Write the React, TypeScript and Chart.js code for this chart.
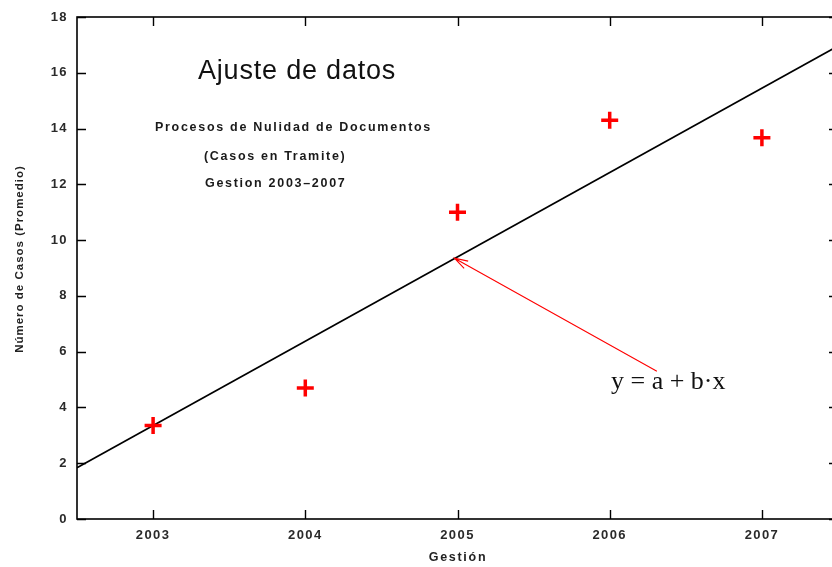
import React, { useEffect, useRef } from "react";
import { Chart, registerables } from "chart.js";

Chart.register(...registerables);

const years = [2003, 2004, 2005, 2006, 2007];
const casos = [3.35, 4.7, 11.0, 14.3, 13.67];
const fitX = [2002.5, 2007.5];
const fitY = [1.84, 16.96];
const xTicks = [2003, 2004, 2005, 2006, 2007];
const yTicks = [0, 2, 4, 6, 8, 10, 12, 14, 16, 18];
const arrowTail = { x: 2006.31, y: 5.3 };
const arrowHead = { x: 2004.98, y: 9.35 };

const titleMain = "Ajuste de datos";
const subLines = ["Procesos de Nulidad de Documentos", "(Casos en Tramite)", "Gestion 2003\u20132007"];
const eqLabel = "y = a + b\u00b7x";
const xTitle = "Gesti\u00f3n";
const yTitle = "N\u00famero de Casos (Promedio)";

const SANS = "'Liberation Sans', Arial, Helvetica, sans-serif";
const SERIF = "'Liberation Serif', 'Times New Roman', serif";

const decorPlugin = {
  id: "decor",
  beforeDraw(chart: any) {
    (chart.ctx as any).letterSpacing = "1.4px";
  },
  afterDraw(chart: any) {
    const ctx = chart.ctx as any;
    const { left, right, top, bottom } = chart.chartArea;
    const xs = chart.scales.x;
    const ys = chart.scales.y;
    ctx.save();
    ctx.letterSpacing = "0px";
    // frame
    ctx.strokeStyle = "#000";
    ctx.lineWidth = 1.6;
    ctx.strokeRect(left, top, right - left, bottom - top);
    // inward ticks
    const tl = 9;
    ctx.lineWidth = 1.4;
    ctx.beginPath();
    for (const v of xTicks) {
      const px = Math.round(xs.getPixelForValue(v)) + 0.5;
      ctx.moveTo(px, bottom);
      ctx.lineTo(px, bottom - tl);
      ctx.moveTo(px, top);
      ctx.lineTo(px, top + tl);
    }
    for (const v of yTicks) {
      const py = Math.round(ys.getPixelForValue(v)) + 0.5;
      ctx.moveTo(left, py);
      ctx.lineTo(left + tl, py);
      ctx.moveTo(right, py);
      ctx.lineTo(right - tl, py);
    }
    ctx.stroke();

    // arrow
    const hx = xs.getPixelForValue(arrowHead.x);
    const hy = ys.getPixelForValue(arrowHead.y);
    const tx = xs.getPixelForValue(arrowTail.x);
    const ty = ys.getPixelForValue(arrowTail.y);
    ctx.strokeStyle = "#ff0000";
    ctx.lineWidth = 1.1;
    ctx.beginPath();
    ctx.moveTo(tx, ty);
    ctx.lineTo(hx, hy);
    const ang = Math.atan2(ty - hy, tx - hx);
    const al = 14;
    const aw = 0.3;
    ctx.moveTo(hx + al * Math.cos(ang + aw), hy + al * Math.sin(ang + aw));
    ctx.lineTo(hx, hy);
    ctx.lineTo(hx + al * Math.cos(ang - aw), hy + al * Math.sin(ang - aw));
    ctx.stroke();

    // equation label
    ctx.fillStyle = "#111";
    ctx.textBaseline = "alphabetic";
    ctx.textAlign = "left";
    ctx.font = `26px ${SERIF}`;
    ctx.fillText(eqLabel, 611, 389);

    // main title
    ctx.font = `27px ${SANS}`;
    ctx.letterSpacing = "0.8px";
    ctx.textAlign = "left";
    ctx.fillText(titleMain, 198, 79);

    // sub lines
    ctx.font = `bold 12.5px ${SANS}`;
    ctx.letterSpacing = "1.7px";
    ctx.textBaseline = "middle";
    ctx.fillStyle = "#1a1a1a";
    ctx.fillText(subLines[0], 155, 128);
    ctx.fillText(subLines[1], 204, 157);
    ctx.fillText(subLines[2], 205, 184);

    // axis titles
    ctx.fillStyle = "#222";
    ctx.textAlign = "center";
    ctx.fillText(xTitle, 458, 558);
    ctx.save();
    ctx.translate(20, 259);
    ctx.rotate(-Math.PI / 2);
    ctx.font = `bold 11.5px ${SANS}`;
    ctx.letterSpacing = "1px";
    ctx.fillText(yTitle, 0, 0);
    ctx.restore();

    ctx.restore();
    ctx.letterSpacing = "0px";
  },
};

export default function App() {
  const ref = useRef<HTMLCanvasElement | null>(null);
  useEffect(() => {
    if (!ref.current) return;
    const chart = new Chart(ref.current, {
      type: "scatter",
      data: {
        datasets: [
          {
            label: "fit",
            data: fitX.map((x, i) => ({ x, y: fitY[i] })),
            showLine: true,
            borderColor: "#000",
            borderWidth: 1.6,
            pointRadius: 0,
            order: 2,
          },
          {
            label: "casos",
            data: years.map((x, i) => ({ x, y: casos[i] })),
            pointStyle: "cross",
            pointRadius: 8.5,
            borderColor: "#ff0000",
            backgroundColor: "#ff0000",
            pointBorderWidth: 3.5,
            showLine: false,
            order: 1,
          },
        ],
      },
      options: {
        responsive: false,
        animation: false,
        events: [],
        layout: { padding: { left: 0, top: 17, right: 9, bottom: 0 } },
        plugins: { legend: { display: false }, tooltip: { enabled: false }, title: { display: false } },
        scales: {
          x: {
            type: "linear",
            min: 2002.5,
            max: 2007.5,
            afterBuildTicks: (s: any) => {
              s.ticks = xTicks.map((v) => ({ value: v }));
            },
            afterFit: (s: any) => {
              s.height = 48;
            },
            grid: { display: false, drawTicks: false },
            border: { display: false },
            ticks: {
              padding: 9,
              color: "#2a2a2a",
              font: { family: SANS, size: 13, weight: "bold" },
              callback: (v: any) => String(v),
              maxRotation: 0,
            },
          },
          y: {
            type: "linear",
            min: 0,
            max: 18,
            afterBuildTicks: (s: any) => {
              s.ticks = yTicks.map((v) => ({ value: v }));
            },
            afterFit: (s: any) => {
              s.width = 77;
            },
            grid: { display: false, drawTicks: false },
            border: { display: false },
            ticks: {
              padding: 9,
              color: "#2a2a2a",
              font: { family: SANS, size: 13, weight: "bold" },
              callback: (v: any) => String(v),
            },
          },
        },
      },
      plugins: [decorPlugin],
    } as any);
    return () => chart.destroy();
  }, []);
  return (
    <div style={{ position: "fixed", left: 0, top: 0, width: 832, height: 567, overflow: "hidden", background: "#fff" }}>
      <canvas ref={ref} width={850} height={567} style={{ width: 850, height: 567, display: "block" }} />
    </div>
  );
}
